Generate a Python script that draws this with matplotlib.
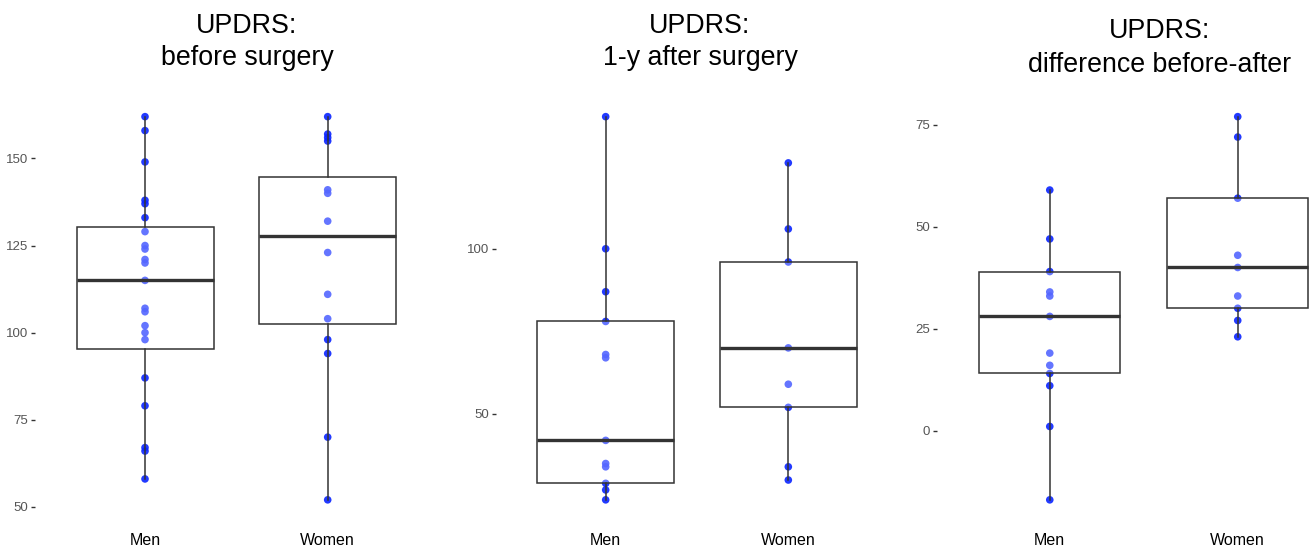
import numpy as np
import matplotlib
matplotlib.use("Agg")
import matplotlib.pyplot as plt

plt.rcParams['font.family'] = ['Liberation Sans', 'DejaVu Sans']

groups = ['Men', 'Women']

# UPDRS before surgery
before_men = [162, 158, 149, 138, 137, 133, 129, 125, 124, 121, 120, 115,
              107, 106, 102, 100, 98, 87, 79, 67, 66, 58]
before_women = [162, 157, 156, 155, 141, 140, 132, 123, 111, 104, 98, 94, 70, 52]
# UPDRS 1 year after surgery
after_men = [140, 100, 87, 78, 68, 67, 42, 35, 34, 29, 27, 24]
after_women = [126, 106, 96, 70, 59, 52, 34, 30]
# difference before-after
diff_men = [59, 47, 39, 34, 33, 28, 19, 16, 14, 11, 1, -17]
diff_women = [77, 72, 57, 43, 40, 33, 30, 27, 23]

# box stats: (q1, median, q3) per group
before_box = [(95.3, 115, 130.3), (102.5, 127.8, 144.7)]
after_box = [(29, 42, 78), (52, 70, 96)]
diff_box = [(14, 28, 39), (30, 40, 57)]

titles = [('UPDRS:', 'before surgery'),
          ('UPDRS:', '1-y after surgery'),
          ('UPDRS:', 'difference before-after')]
yticks = [[50, 75, 100, 125, 150], [50, 100], [0, 25, 50, 75]]

W, H = 1311, 548
fig = plt.figure(figsize=(W / 100, H / 100), dpi=100)

# pixel layout of the three panels (left, right)
panel_px = [(35.4, 437.3), (496.1, 897.9), (937.0, 1350.5)]
top_px, bot_px = 97.5, 519.0
title_x = [247, 700, 1160]
title_base = [(33.3, 65.0), (33.3, 65.0), (38.3, 71.7)]

data = [(before_men, before_women, before_box),
        (after_men, after_women, after_box),
        (diff_men, diff_women, diff_box)]

for k, (men, women, box) in enumerate(data):
    l, r = panel_px[k]
    ax = fig.add_axes([l / W, (H - bot_px) / H, (r - l) / W, (bot_px - top_px) / H])
    stats = []
    for vals, (q1, med, q3), name in zip([men, women], box, groups):
        stats.append(dict(q1=q1, med=med, q3=q3, whislo=min(vals), whishi=max(vals),
                          fliers=[], label=name))
    for i, vals in enumerate([men, women]):
        ax.scatter(np.full(len(vals), i + 1), vals, s=30, color='#0a24ff',
                   alpha=0.9, edgecolors='none', zorder=1)
    ax.bxp(stats, positions=[1, 2], widths=0.75, showcaps=False, patch_artist=True,
           boxprops=dict(facecolor=(1, 1, 1, 0.3), edgecolor='#333333', linewidth=1.1),
           whiskerprops=dict(color='#333333', linewidth=1.1),
           medianprops=dict(color='#333333', linewidth=2.4),
           zorder=2)
    allv = men + women
    lo, hi = min(allv), max(allv)
    pad = (hi - lo) * 0.05
    ax.set_ylim(lo - pad, hi + pad)
    ax.set_xlim(0.4, 2.6)
    ax.set_yticks(yticks[k])
    ax.set_xticks([1, 2])
    ax.set_xticklabels(groups)
    ax.tick_params(axis='y', length=3, width=1, color='#333333', labelsize=9.5,
                   labelcolor='#555555', pad=2)
    ax.tick_params(axis='x', length=0, labelsize=11.5, labelcolor='black', pad=10)
    for s in ax.spines.values():
        s.set_visible(False)

    t1, t2 = titles[k]
    b1, b2 = title_base[k]
    fig.text(title_x[k] / W, 1 - b1 / H, t1, ha='center', va='baseline', fontsize=19.3)
    fig.text(title_x[k] / W, 1 - b2 / H, t2, ha='center', va='baseline', fontsize=19.3)

fig.savefig('out.png', dpi=100)
